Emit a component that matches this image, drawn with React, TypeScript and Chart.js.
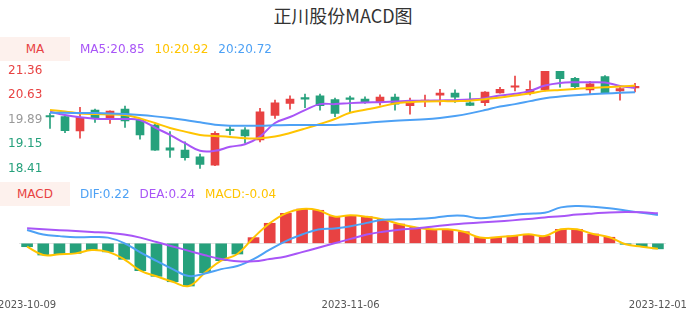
import React, { useEffect, useRef } from "react";
import { Chart, registerables } from "chart.js";
Chart.register(...registerables);

const dates = [
  "2023-10-09","2023-10-10","2023-10-11","2023-10-12","2023-10-13",
  "2023-10-16","2023-10-17","2023-10-18","2023-10-19","2023-10-20",
  "2023-10-23","2023-10-24","2023-10-25","2023-10-26","2023-10-27",
  "2023-10-30","2023-10-31","2023-11-01","2023-11-02","2023-11-03",
  "2023-11-06","2023-11-07","2023-11-08","2023-11-09","2023-11-10",
  "2023-11-13","2023-11-14","2023-11-15","2023-11-16","2023-11-17",
  "2023-11-20","2023-11-21","2023-11-22","2023-11-23","2023-11-24",
  "2023-11-27","2023-11-28","2023-11-29","2023-11-30","2023-12-01",
];

const opens = [20.00,19.98,19.55,20.18,19.95,20.21,19.88,19.73,19.04,18.97,18.77,18.52,19.60,19.58,19.28,20.02,20.38,20.55,20.61,20.50,20.55,20.51,20.43,20.57,20.31,20.44,20.63,20.69,20.40,20.40,20.70,20.87,20.69,20.79,21.36,21.14,20.79,21.19,20.76,20.85];
const highs = [20.08,20.01,20.26,20.21,20.16,20.30,19.90,19.75,19.53,19.22,18.85,19.53,19.68,19.65,20.23,20.48,20.61,20.66,20.66,20.54,20.60,20.58,20.64,20.66,20.54,20.63,20.81,20.79,20.70,20.74,20.87,21.21,21.06,21.36,21.36,21.17,21.05,21.22,20.91,20.99];
const lows = [19.63,19.50,19.33,19.81,19.78,19.66,19.30,18.96,18.75,18.67,18.41,18.50,19.43,19.18,19.22,19.93,20.21,20.25,20.18,19.98,20.11,20.38,20.33,20.18,20.06,20.28,20.33,20.41,20.31,20.31,20.69,20.76,20.64,20.76,20.87,20.82,20.67,20.69,20.48,20.73];
const closes = [19.97,19.56,19.96,19.95,20.15,19.85,19.43,18.97,18.97,18.74,18.54,19.48,19.56,19.40,20.13,20.40,20.51,20.51,20.31,20.08,20.50,20.43,20.57,20.36,20.41,20.48,20.69,20.57,20.32,20.72,20.81,20.91,20.81,21.36,21.13,20.89,20.97,20.70,20.83,20.89];

const ma5 = [20.13,20.03,19.96,19.92,19.91,19.91,19.88,19.65,19.43,19.18,18.95,18.95,19.07,19.15,19.38,19.79,19.97,20.18,20.36,20.36,20.39,20.41,20.42,20.44,20.46,20.46,20.47,20.48,20.50,20.54,20.62,20.67,20.76,20.92,21.00,21.02,21.02,21.01,20.91,20.85];
const ma10 = [20.18,20.14,20.08,20.06,20.05,20.03,19.93,19.79,19.64,19.53,19.43,19.40,19.37,19.33,19.33,19.38,19.49,19.62,19.76,19.91,20.10,20.19,20.28,20.38,20.42,20.44,20.45,20.45,20.46,20.51,20.56,20.62,20.68,20.76,20.79,20.82,20.85,20.87,20.89,20.92];
const ma20 = [20.10,20.10,20.09,20.09,20.08,20.06,20.03,19.99,19.94,19.88,19.81,19.74,19.71,19.71,19.71,19.72,19.73,19.73,19.73,19.73,19.76,19.79,19.83,19.86,19.88,19.90,19.94,20.00,20.08,20.18,20.29,20.36,20.45,20.54,20.59,20.63,20.66,20.68,20.70,20.72];

const priceTicks = [18.41, 19.15, 19.89, 20.63, 21.36];

const dif = [0.106,0.070,0.057,0.048,0.050,0.045,0.002,-0.072,-0.140,-0.205,-0.260,-0.240,-0.205,-0.180,-0.125,-0.050,0.018,0.070,0.110,0.118,0.135,0.162,0.186,0.190,0.193,0.200,0.217,0.218,0.198,0.210,0.225,0.235,0.242,0.285,0.296,0.290,0.278,0.260,0.243,0.225];
const dea = [0.119,0.112,0.104,0.098,0.090,0.083,0.070,0.045,0.010,-0.025,-0.060,-0.095,-0.125,-0.143,-0.143,-0.125,-0.105,-0.070,-0.035,0.000,0.035,0.070,0.092,0.108,0.118,0.132,0.145,0.157,0.165,0.174,0.182,0.192,0.205,0.215,0.228,0.237,0.245,0.248,0.246,0.238];
const macd = [-0.027,-0.093,-0.087,-0.080,-0.053,-0.068,-0.127,-0.217,-0.262,-0.305,-0.339,-0.233,-0.138,-0.085,0.045,0.159,0.238,0.272,0.262,0.213,0.222,0.211,0.190,0.153,0.127,0.111,0.111,0.092,0.046,0.048,0.058,0.071,0.058,0.111,0.111,0.074,0.048,-0.008,-0.027,-0.044];

const shownDateIdx = [0, 20, 39];

const RED = "#e84242";
const GREEN = "#26a17c";
const PURPLE = "#a855f7";
const YELLOW = "#ffc400";
const BLUE = "#4da1f5";
const FONT = "'DejaVu Sans', sans-serif";

export default function App() {
  const topRef = useRef<HTMLCanvasElement>(null);
  const botRef = useRef<HTMLCanvasElement>(null);

  useEffect(() => {
    const candleColors = closes.map((c, i) => (c >= opens[i] ? RED : GREEN));
    const bodies = opens.map((o, i) => [o, closes[i]]);
    const wicks = lows.map((l, i) => [l, highs[i]]);
    const tickColors = [GREEN, GREEN, "#999999", RED, RED];

    const lineDs = (data: number[], color: string) => ({
      type: "line" as const,
      data,
      borderColor: color,
      borderWidth: 2,
      pointRadius: 0,
      tension: 0.4,
      fill: false,
      order: 0,
    });

    const top = new Chart(topRef.current as HTMLCanvasElement, {
      type: "bar",
      data: {
        labels: dates,
        datasets: [
          lineDs(ma20, BLUE),
          lineDs(ma10, YELLOW),
          lineDs(ma5, PURPLE),
          {
            type: "bar",
            data: bodies as any,
            backgroundColor: candleColors,
            barThickness: 8,
            grouped: false,
            minBarLength: 1.5,
            order: 1,
          } as any,
          {
            type: "bar",
            data: wicks as any,
            backgroundColor: candleColors,
            barThickness: 1,
            grouped: false,
            order: 2,
          } as any,
        ],
      },
      options: {
        animation: false,
        responsive: false,
        layout: { padding: { left: 8, right: 43.5, top: 11, bottom: 11.3 } },
        plugins: { legend: { display: false }, tooltip: { enabled: false } },
        scales: {
          x: { display: false, offset: true },
          y: {
            min: 18.41,
            max: 21.36,
            grid: { display: false, drawTicks: false },
            border: { display: false },
            afterBuildTicks: (s: any) => {
              s.ticks = priceTicks.map((v) => ({ value: v }));
            },
            afterFit: (s: any) => {
              s.width = 34.5;
              s.paddingTop = 0;
              s.paddingBottom = 0;
            },
            ticks: {
              crossAlign: "far",
              padding: 0,
              color: (ctx: any) => tickColors[ctx.index] || "#999",
              font: { family: FONT, size: 12 },
              callback: (v: any) => Number(v).toFixed(2),
            },
          } as any,
        },
      },
    });

    const bot = new Chart(botRef.current as HTMLCanvasElement, {
      type: "bar",
      data: {
        labels: dates,
        datasets: [
          lineDs(dea, PURPLE),
          lineDs(dif, BLUE),
          lineDs(macd, YELLOW),
          {
            type: "bar",
            data: macd,
            backgroundColor: macd.map((v) => (v >= 0 ? RED : GREEN)),
            barThickness: 11,
            order: 1,
          } as any,
        ],
      },
      options: {
        animation: false,
        responsive: false,
        layout: { padding: { left: 19, right: 20, top: 25, bottom: 0 } },
        plugins: { legend: { display: false }, tooltip: { enabled: false } },
        scales: {
          x: {
            offset: true,
            grid: { display: false, drawTicks: false },
            border: { display: false },
            afterFit: (s: any) => {
              s.height = 28;
              s.paddingLeft = 0;
              s.paddingRight = 0;
            },
            ticks: {
              autoSkip: false,
              maxRotation: 0,
              minRotation: 0,
              padding: 7,
              color: "#555555",
              font: { family: FONT, size: 10 },
              callback: (_v: any, i: number) => (shownDateIdx.includes(i) ? dates[i] : ""),
            },
          } as any,
          y: {
            min: -0.3865,
            max: 0.3437,
            border: { display: false },
            grid: {
              drawTicks: false,
              color: (ctx: any) => (ctx.tick && ctx.tick.value === 0 ? "#e3e3e3" : "rgba(0,0,0,0)"),
            },
            ticks: { display: false },
            afterBuildTicks: (s: any) => {
              s.ticks = [{ value: 0 }];
            },
            afterFit: (s: any) => {
              s.width = 0;
              s.paddingTop = 0;
              s.paddingBottom = 0;
            },
          } as any,
        },
      },
    });

    return () => {
      top.destroy();
      bot.destroy();
    };
  }, []);

  const box: React.CSSProperties = {
    position: "absolute",
    left: 0,
    width: 70,
    height: 24,
    lineHeight: "24px",
    background: "#fdf1ed",
    color: RED,
    fontSize: 12,
    textAlign: "center",
    fontFamily: FONT,
    zIndex: 2,
  };
  const legendRow: React.CSSProperties = {
    position: "absolute",
    left: 80,
    height: 24,
    lineHeight: "24px",
    display: "flex",
    gap: 10,
    fontSize: 12,
    fontFamily: FONT,
    whiteSpace: "nowrap",
    zIndex: 2,
  };

  return (
    <div style={{ position: "fixed", left: 0, top: 0, width: 686, height: 320, background: "#ffffff", overflow: "hidden" }}>
      <div
        style={{
          position: "absolute",
          left: 0,
          top: 3,
          width: 686,
          height: 24,
          lineHeight: "24px",
          textAlign: "center",
          fontSize: 18,
          color: "#333333",
          fontFamily: "'Noto Sans CJK SC', 'DejaVu Sans', sans-serif",
        }}
      >
        正川股份MACD图
      </div>
      <div style={{ ...box, top: 37 }}>MA</div>
      <div style={{ ...legendRow, top: 37 }}>
        <span style={{ color: PURPLE }}>MA5:20.85</span>
        <span style={{ color: YELLOW }}>10:20.92</span>
        <span style={{ color: BLUE }}>20:20.72</span>
      </div>
      <div style={{ ...box, top: 182 }}>MACD</div>
      <div style={{ ...legendRow, top: 182 }}>
        <span style={{ color: BLUE }}>DIF:0.22</span>
        <span style={{ color: PURPLE }}>DEA:0.24</span>
        <span style={{ color: YELLOW }}>MACD:-0.04</span>
      </div>
      <canvas
        ref={topRef}
        width={686}
        height={120}
        style={{ position: "absolute", left: 0, top: 60, width: 686, height: 120, zIndex: 1 }}
      />
      <canvas
        ref={botRef}
        width={686}
        height={145}
        style={{ position: "absolute", left: 0, top: 175, width: 686, height: 145, zIndex: 1 }}
      />
    </div>
  );
}
